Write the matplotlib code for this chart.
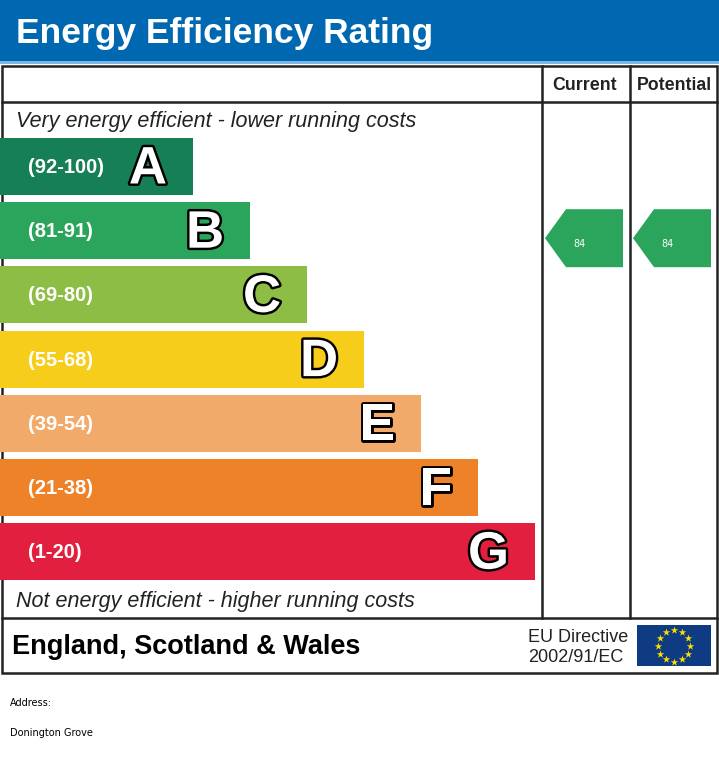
import matplotlib
matplotlib.use("Agg")
import matplotlib.pyplot as plt
import matplotlib.patheffects as pe
from matplotlib.patches import Rectangle, Polygon
import numpy as np

# data
bands = ["A", "B", "C", "D", "E", "F", "G"]
ranges = ["(92-100)", "(81-91)", "(69-80)", "(55-68)", "(39-54)", "(21-38)", "(1-20)"]
band_colors = ["#177f56", "#2ba55c", "#8dbd45", "#f6cd1b", "#f2aa6b", "#ee8229", "#e31f3f"]
band_low = [92, 81, 69, 55, 39, 21, 1]
current_rating = 84
potential_rating = 84
address = "Donington Grove"

FONT = "Liberation Sans"

fig = plt.figure(figsize=(7.19, 7.61), dpi=100)
ax = fig.add_axes([0, 0, 1, 1])
ax.set_xlim(0, 719)
ax.set_ylim(761, 0)
ax.axis("off")

# header
ax.add_patch(Rectangle((0, 0), 719, 61, color="#0067b1", lw=0))
ax.add_patch(Rectangle((0, 61), 719, 2.5, color="#7db7e3", lw=0))
ax.text(16, 33, "Energy Efficiency Rating", color="white", fontsize=25.5,
        fontweight="bold", family=FONT, va="center", ha="left")

# table frame
lc = "#222222"
lw = 1.8
ax.add_patch(Rectangle((1.5, 65.5), 715.5, 607.5, fill=False, ec=lc, lw=lw))
ax.plot([1.5, 717], [101.5, 101.5], color=lc, lw=lw)
ax.plot([1.5, 717], [617.5, 617.5], color=lc, lw=lw)
col_x = [542, 630]
for cx in col_x:
    ax.plot([cx, cx], [65.5, 617.5], color=lc, lw=lw)
ax.text(585, 86, "Current", fontsize=12.8, fontweight="bold", family=FONT,
        ha="center", va="center", color="#222222")
ax.text(674, 86, "Potential", fontsize=12.8, fontweight="bold", family=FONT,
        ha="center", va="center", color="#222222")

ax.text(16, 122, "Very energy efficient - lower running costs", fontsize=15.5,
        style="italic", family=FONT, va="center", color="#222222")
ax.text(16, 601, "Not energy efficient - higher running costs", fontsize=15.5,
        style="italic", family=FONT, va="center", color="#222222")

# bands
top0, step, h = 138, 64.2, 57
w0, dw = 193, 57
outline = [pe.withStroke(linewidth=3.5, foreground="black")]
for i, (b, r, c) in enumerate(zip(bands, ranges, band_colors)):
    y = top0 + i * step
    w = w0 + i * dw
    ax.add_patch(Rectangle((0, y), w, h, color=c, lw=0))
    ax.text(28, y + h / 2 + 1, r, color="white", fontsize=14.5, fontweight="bold",
            family=FONT, va="center", ha="left")
    t = ax.text(w - 26, y + h / 2 + 3, b, color="white", fontsize=38,
                fontweight="bold", family=FONT, va="center", ha="right")
    t.set_path_effects(outline)


def band_index(v):
    for i, lo in enumerate(band_low):
        if v >= lo:
            return i
    return len(band_low) - 1


def arrow(x0, rating):
    i = band_index(rating)
    y = top0 + i * step + 7
    hh = 58
    pts = [(x0, y + hh / 2), (x0 + 21, y), (x0 + 78, y), (x0 + 78, y + hh), (x0 + 21, y + hh)]
    ax.add_patch(Polygon(pts, closed=True, color="#2ba55c", lw=0))
    ax.text(x0 + 34, y + hh / 2 + 6, str(rating), color="white", fontsize=7,
            family="DejaVu Sans", va="center", ha="center")


arrow(545, current_rating)
arrow(633, potential_rating)

# footer
ax.text(12, 647, "England, Scotland & Wales", fontsize=19.5, fontweight="bold",
        family=FONT, va="center", color="black")
ax.text(528, 637, "EU Directive", fontsize=13, family=FONT, va="center", color="#222222")
ax.text(528, 658, "2002/91/EC", fontsize=13, family=FONT, va="center", color="#222222")
ax.add_patch(Rectangle((637, 625), 74, 41, color="#0f3b82", lw=0))
ang = np.linspace(0, 2 * np.pi, 12, endpoint=False)
ax.scatter(674 + 16 * np.cos(ang), 645.5 + 16 * np.sin(ang), marker="*", s=32,
           color="#ffdd00", lw=0, zorder=5)

ax.text(10, 703, "Address:", fontsize=7, family="DejaVu Sans", va="center")
ax.text(10, 733, address, fontsize=7, family="DejaVu Sans", va="center")

fig.savefig("out.png", dpi=100)
